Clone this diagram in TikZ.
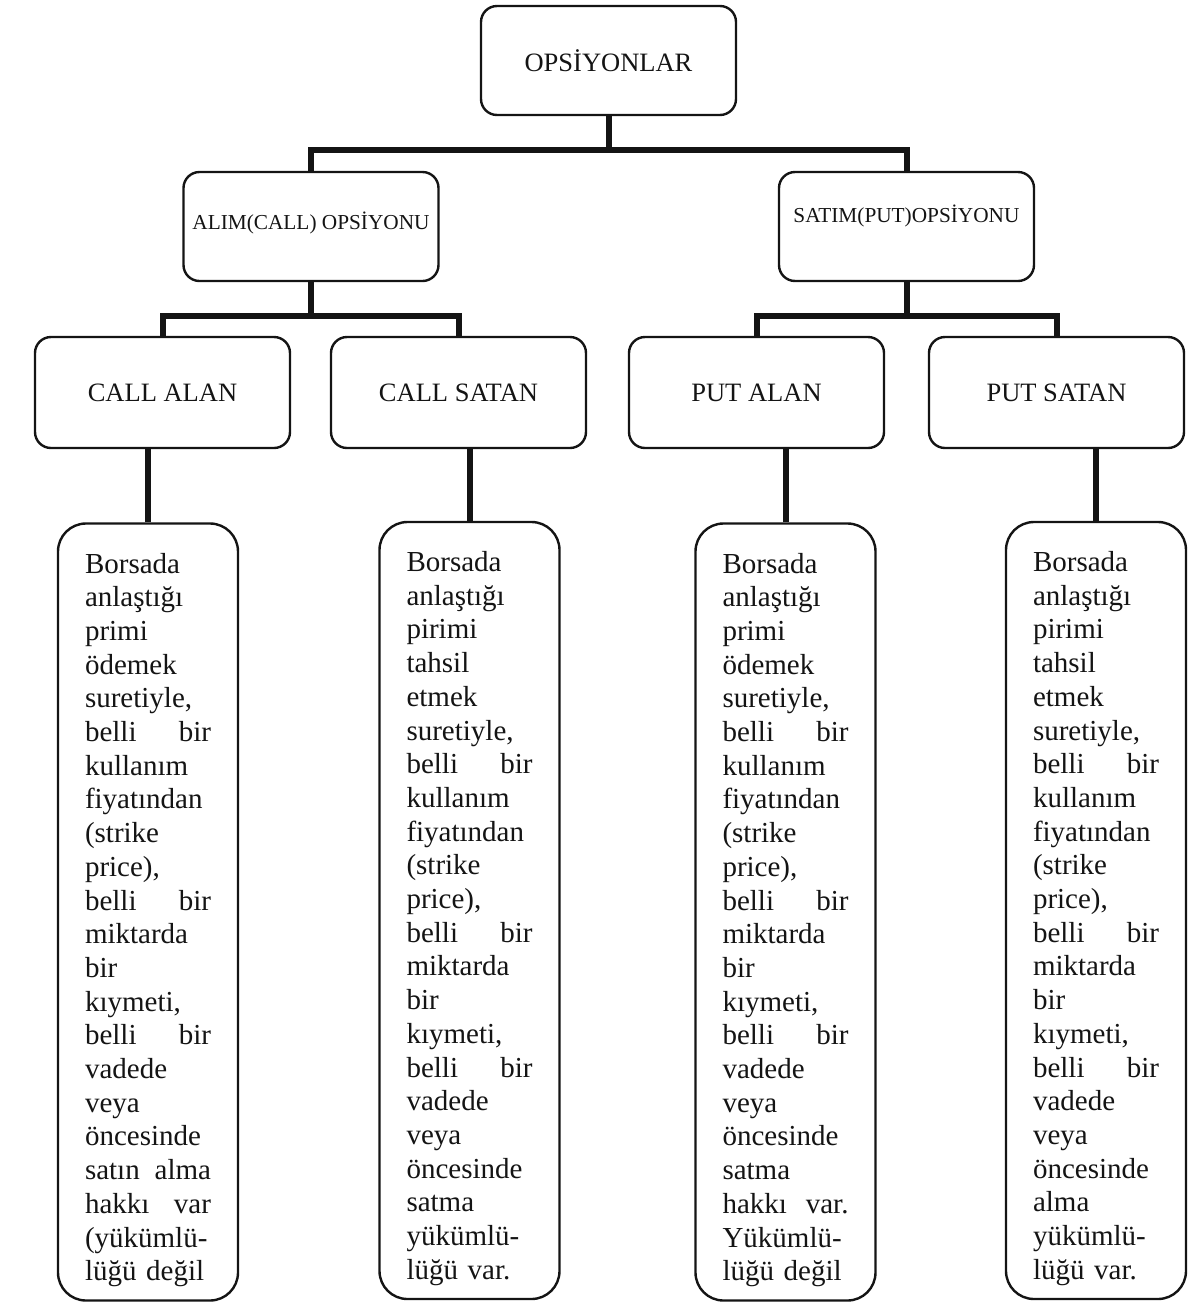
\documentclass[tikz,border=0pt]{standalone}
\usepackage{fontspec}
\setmainfont{Liberation Serif}
\usepackage{xcolor}
\usepackage{tikz}
\usetikzlibrary{positioning,calc}
\definecolor{Ink}{HTML}{141414}
\tikzset{
  box/.style={draw=Ink,line width=2.4pt,rounded corners=16pt,fill=white,align=center,inner sep=0pt,text=Ink},
  headbox/.style={box,minimum width=255pt,minimum height=109pt,font=\fontsize{26.5}{30}\selectfont},
  optbox/.style={box,minimum width=255pt,minimum height=109pt,font=\fontsize{21.3}{25}\selectfont},
  sidebox/.style={box,minimum width=255pt,minimum height=111pt,font=\fontsize{26.5}{30}\selectfont},
  notebox/.style={box,rounded corners=28pt,text width=126pt,inner xsep=27pt,minimum height=777pt,align=left,font=\fontsize{29}{33.7}\selectfont,execute at begin node=\rule{0pt}{36pt}},
  link/.style={draw=Ink,line width=6pt}
}

\begin{document}
\begin{tikzpicture}[x=1pt,y=-1pt]
  \useasboundingbox (0,0) rectangle (1196,1302);
  % tree
  \node[headbox] (opsiyon) at (608.5,60.5) {OPSİYONLAR};
  \node[optbox,text depth=12pt] (alim) at (311,226.5) {ALIM(CALL) OPSİYONU};
  \node[optbox,text depth=26pt] (satim) at (906.5,226.5) {SATIM(PUT)OPSİYONU};
  \node[sidebox] (callalan) at (162.5,392.5) {CALL ALAN};
  \node[sidebox] (callsatan) at (458.5,392.5) {CALL SATAN};
  \node[sidebox] (putalan) at (756.5,392.5) {PUT ALAN};
  \node[sidebox] (putsatan) at (1056.5,392.5) {PUT SATAN};
  \coordinate (bar) at (608.5,150);
  \coordinate (barcall) at (311,316);
  \coordinate (barput) at (906.5,316);
  \draw[link] (opsiyon) -- (bar);
  \draw[link] (bar) -| (alim);
  \draw[link] (bar) -| (satim);
  \draw[link] (alim) -- (barcall);
  \draw[link] (barcall) -| (callalan);
  \draw[link] (barcall) -| (callsatan);
  \draw[link] (satim) -- (barput);
  \draw[link] (barput) -| (putalan);
  \draw[link] (barput) -| (putsatan);
  % descriptions
  \node[notebox] (calalnote) at (148,912) {Borsada\\anlaştığı\\primi\\ödemek\\suretiyle,\\belli\hfill bir\\kullanım\\fiyatından\\(strike\\price),\\belli\hfill bir\\miktarda\\bir\\kıymeti,\\belli\hfill bir\\vadede\\veya\\öncesinde\\satın\hfill alma\\hakkı\hfill var\\(yükümlü-\\lüğü değil};
  \node[notebox] (calsatnote) at (469.5,910.5) {Borsada\\anlaştığı\\pirimi\\tahsil\\etmek\\suretiyle,\\belli\hfill bir\\kullanım\\fiyatından\\(strike\\price),\\belli\hfill bir\\miktarda\\bir\\kıymeti,\\belli\hfill bir\\vadede\\veya\\öncesinde\\satma\\yükümlü-\\lüğü var.};
  \node[notebox] (putalnote) at (785.5,912) {Borsada\\anlaştığı\\primi\\ödemek\\suretiyle,\\belli\hfill bir\\kullanım\\fiyatından\\(strike\\price),\\belli\hfill bir\\miktarda\\bir\\kıymeti,\\belli\hfill bir\\vadede\\veya\\öncesinde\\satma\\hakkı\hfill var.\\Yükümlü-\\lüğü değil};
  \node[notebox] (putsatnote) at (1096,910.5) {Borsada\\anlaştığı\\pirimi\\tahsil\\etmek\\suretiyle,\\belli\hfill bir\\kullanım\\fiyatından\\(strike\\price),\\belli\hfill bir\\miktarda\\bir\\kıymeti,\\belli\hfill bir\\vadede\\veya\\öncesinde\\alma\\yükümlü-\\lüğü var.};
  \draw[link] (calalnote.north) -- (calalnote.north |- callalan.south);
  \draw[link] (calsatnote.north) -- (calsatnote.north |- callsatan.south);
  \draw[link] (putalnote.north) -- (putalnote.north |- putalan.south);
  \draw[link] (putsatnote.north) -- (putsatnote.north |- putsatan.south);
\end{tikzpicture}
\end{document}
